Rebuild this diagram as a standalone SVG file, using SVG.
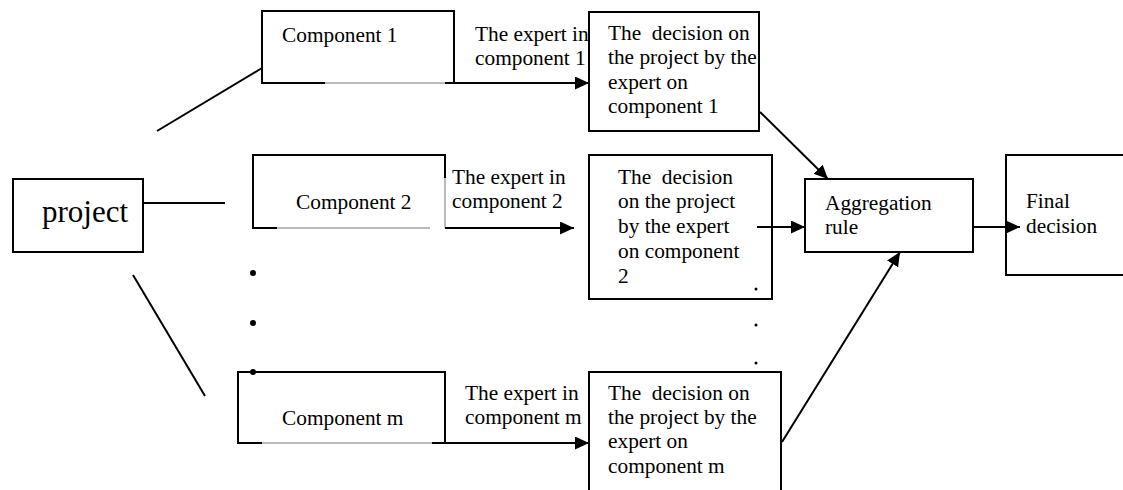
<svg xmlns="http://www.w3.org/2000/svg" width="1123" height="490" viewBox="0 0 1123 490">
<style>
  .box { fill: none; stroke: #000; stroke-width: 2; }
  .edge { stroke: #000; stroke-width: 2; fill: none; }
  .thin { stroke: #777; stroke-width: 1; fill: none; }
  .t { font-family: "Liberation Serif", "Times New Roman", serif; font-size: 21.33px; fill: #000; white-space: pre; }
  .big { font-family: "Liberation Serif", "Times New Roman", serif; font-size: 31px; fill: #000; }
  .dot { fill: #000; }
</style>
<defs>
  <marker id="arr" markerUnits="userSpaceOnUse" markerWidth="15" markerHeight="14" refX="14" refY="6.5" orient="auto">
    <path d="M0,0 L14,6.5 L0,13 Z" fill="#000"/>
  </marker>
</defs>
<rect width="1123" height="490" fill="#fff"/>

<g id="project">
  <rect class="box" x="13" y="179" width="130" height="73"/>
  <text class="big" x="42" y="222">project</text>
</g>

<g id="component1">
  <path class="edge" d="M325,83 L262,83 L262,11 L454,11 L454,83"/>
  <line class="thin" x1="325" y1="83" x2="445" y2="83"/>
  <text class="t" x="282" y="42">Component 1</text>
</g>

<g id="component2">
  <path class="edge" d="M277,228 L253,228 L253,155 L445,155 L445,178"/>
  <line class="thin" x1="445" y1="178" x2="445" y2="228"/>
  <line class="thin" x1="277" y1="228" x2="430" y2="228"/>
  <text class="t" x="296" y="209">Component 2</text>
</g>

<g id="componentm">
  <path class="edge" d="M262,443 L238,443 L238,372 L445,372 L445,443"/>
  <line class="thin" x1="262" y1="443" x2="432" y2="443"/>
  <text class="t" x="282" y="425">Component m</text>
</g>

<g id="dots">
  <circle class="dot" cx="253" cy="273" r="3"/>
  <circle class="dot" cx="253" cy="323" r="3"/>
  <circle class="dot" cx="253" cy="372" r="3"/>
  <circle class="dot" cx="756" cy="289" r="1.5"/>
  <circle class="dot" cx="756" cy="325" r="1.5"/>
  <circle class="dot" cx="756" cy="363" r="1.5"/>
</g>

<g id="decision1">
  <rect class="box" x="589" y="12" width="170" height="119"/>
  <text class="t" x="608" y="40">The  decision on</text>
  <text class="t" x="608" y="64">the project by the</text>
  <text class="t" x="608" y="89">expert on</text>
  <text class="t" x="608" y="113">component 1</text>
</g>

<g id="decision2">
  <rect class="box" x="589" y="155" width="183" height="144"/>
  <text class="t" x="618" y="184">The  decision</text>
  <text class="t" x="618" y="208">on the project</text>
  <text class="t" x="618" y="233">by the expert</text>
  <text class="t" x="618" y="258">on component</text>
  <text class="t" x="618" y="283">2</text>
</g>

<g id="decisionm">
  <path class="edge" d="M589,492 L589,372 L781,372 L781,492"/>
  <text class="t" x="608" y="400">The  decision on</text>
  <text class="t" x="608" y="424">the project by the</text>
  <text class="t" x="608" y="448">expert on</text>
  <text class="t" x="608" y="473">component m</text>
</g>

<g id="aggregation">
  <rect class="box" x="805" y="179" width="168" height="73"/>
  <text class="t" x="825" y="210">Aggregation</text>
  <text class="t" x="825" y="234">rule</text>
</g>

<g id="final">
  <path class="edge" d="M1125,155 L1006,155 L1006,275 L1125,275"/>
  <text class="t" x="1026" y="208">Final</text>
  <text class="t" x="1026" y="233">decision</text>
</g>

<g id="labels">
  <text class="t" x="475" y="41">The expert in</text>
  <text class="t" x="475" y="65">component 1</text>
  <text class="t" x="452" y="184">The expert in</text>
  <text class="t" x="452" y="208">component 2</text>
  <text class="t" x="465" y="400">The expert in</text>
  <text class="t" x="465" y="424">component m</text>
</g>

<g id="connectors">
  <line class="edge" x1="143" y1="203" x2="225" y2="203"/>
  <line class="edge" x1="157" y1="131" x2="262" y2="68"/>
  <line class="edge" x1="133" y1="275" x2="205" y2="396"/>
  <line class="edge" x1="445" y1="83" x2="589" y2="83" marker-end="url(#arr)"/>
  <line class="edge" x1="445" y1="228" x2="574" y2="228" marker-end="url(#arr)"/>
  <line class="edge" x1="432" y1="443" x2="589" y2="443" marker-end="url(#arr)"/>
  <line class="edge" x1="757" y1="227" x2="805" y2="227" marker-end="url(#arr)"/>
  <line class="edge" x1="760" y1="112" x2="828" y2="179" marker-end="url(#arr)"/>
  <line class="edge" x1="782" y1="442" x2="900" y2="252" marker-end="url(#arr)"/>
  <line class="edge" x1="973" y1="227" x2="1020" y2="227" marker-end="url(#arr)"/>
</g>
</svg>
